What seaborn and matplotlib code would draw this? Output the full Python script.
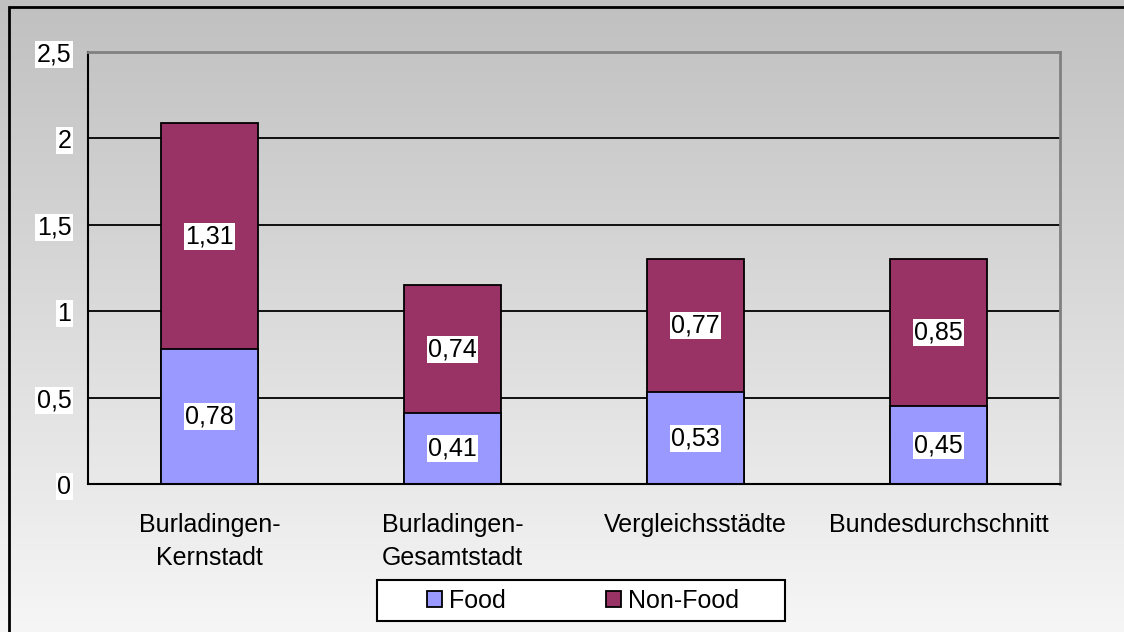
import numpy as np
import pandas as pd
import matplotlib
matplotlib.use("Agg")
import matplotlib.pyplot as plt
import seaborn as sns
from matplotlib.patches import Rectangle, Patch

categories = ["Burladingen-\nKernstadt", "Burladingen-\nGesamtstadt", "Vergleichsstädte", "Bundesdurchschnitt"]
food = [0.78, 0.41, 0.53, 0.45]
nonfood = [1.31, 0.74, 0.77, 0.85]
yticks = [0, 0.5, 1, 1.5, 2, 2.5]
ytick_labels = ["0", "0,5", "1", "1,5", "2", "2,5"]
series_names = ["Food", "Non-Food"]
colors = {"Food": "#9999FF", "Non-Food": "#993366"}

sns.set_style("white")
plt.rcParams["font.family"] = ["Liberation Sans", "DejaVu Sans"]
plt.rcParams["text.color"] = "black"
plt.rcParams["xtick.color"] = "black"
plt.rcParams["ytick.color"] = "black"
FS = 18

df = pd.DataFrame({"cat": categories, "food": food, "nonfood": nonfood})
df["total"] = df["food"] + df["nonfood"]

fig = plt.figure(figsize=(11.24, 6.32), dpi=100)
# gradient background
grad = np.linspace(192, 246, 632)[:, None] * np.ones((1, 1124))
img = np.dstack([grad, grad, grad]) / 255.0
bg = fig.add_axes([0, 0, 1, 1], zorder=-10)
bg.imshow(img, aspect="auto", extent=[0, 1, 0, 1], origin="upper")
bg.set_xlim(0, 1); bg.set_ylim(0, 1)
bg.axis("off")
bg.add_patch(Rectangle((9 / 1124, -0.1), 1.2, 1 - 7 / 632 + 0.1, fill=False,
                       edgecolor="black", linewidth=2, transform=bg.transAxes))
# legend frame
bg.add_patch(Rectangle((377 / 1124, 1 - 621 / 632), (785 - 377) / 1124, 41 / 632,
                       facecolor="white", edgecolor="black", linewidth=1.5,
                       transform=bg.transAxes))

ax = fig.add_axes([88 / 1124, 1 - 484 / 632, (1060 - 88) / 1124, (484 - 52) / 632])
ax.patch.set_alpha(0)

sns.barplot(data=df, x="cat", y="total", color=colors["Non-Food"], saturation=1,
            width=0.4, edgecolor="black", linewidth=1.3, ax=ax, zorder=3)
sns.barplot(data=df, x="cat", y="food", color=colors["Food"], saturation=1,
            width=0.4, edgecolor="black", linewidth=1.3, ax=ax, zorder=4)

ax.set_xlim(-0.5, 3.5)
ax.set_ylim(0, 2.5)
ax.set_yticks(yticks)
ax.set_yticklabels(ytick_labels, fontsize=FS)
for y in yticks[1:-1]:
    ax.axhline(y, color="black", linewidth=1.3, zorder=1)

ax.set_xticks(range(len(categories)))
ax.set_xticklabels(categories, fontsize=FS, linespacing=1.45)
ax.set_xticks(np.arange(-0.5, 4, 1), minor=True)
ax.tick_params(axis="x", which="major", length=0, pad=21)
ax.tick_params(axis="x", which="minor", length=8, width=1.3, color="black", direction="out")
ax.tick_params(axis="y", length=8, width=1.3, color="black", direction="out", pad=4)
ax.set_xlabel("")
ax.set_ylabel("")

for lab in ax.get_yticklabels():
    lab.set_bbox(dict(facecolor="white", edgecolor="none", pad=1))

for s in ["left", "bottom"]:
    ax.spines[s].set_color("black")
    ax.spines[s].set_linewidth(1.5)
for s in ["top", "right"]:
    ax.spines[s].set_color("#808080")
    ax.spines[s].set_linewidth(2)
for s in ax.spines.values():
    s.set_zorder(5)

fmt = lambda v: f"{v:.2f}".replace(".", ",")
for i, (f, n) in enumerate(zip(food, nonfood)):
    ax.text(i, f / 2, fmt(f), ha="center", va="center", fontsize=FS, zorder=6,
            bbox=dict(facecolor="white", edgecolor="none", pad=1))
    ax.text(i, f + n / 2, fmt(n), ha="center", va="center", fontsize=FS, zorder=6,
            bbox=dict(facecolor="white", edgecolor="none", pad=1))

handles = [Patch(facecolor=colors[s], edgecolor="black", linewidth=1.3) for s in series_names]
leg = fig.legend(handles, series_names, loc="center", bbox_to_anchor=(583 / 1124, 1 - 601 / 632),
                 ncol=2, fontsize=FS, frameon=False,
                 handlelength=0.6, handleheight=0.6, handletextpad=0.3, columnspacing=4.0,
                 borderpad=0.3, borderaxespad=0)

fig.savefig("out.png", dpi=100)
